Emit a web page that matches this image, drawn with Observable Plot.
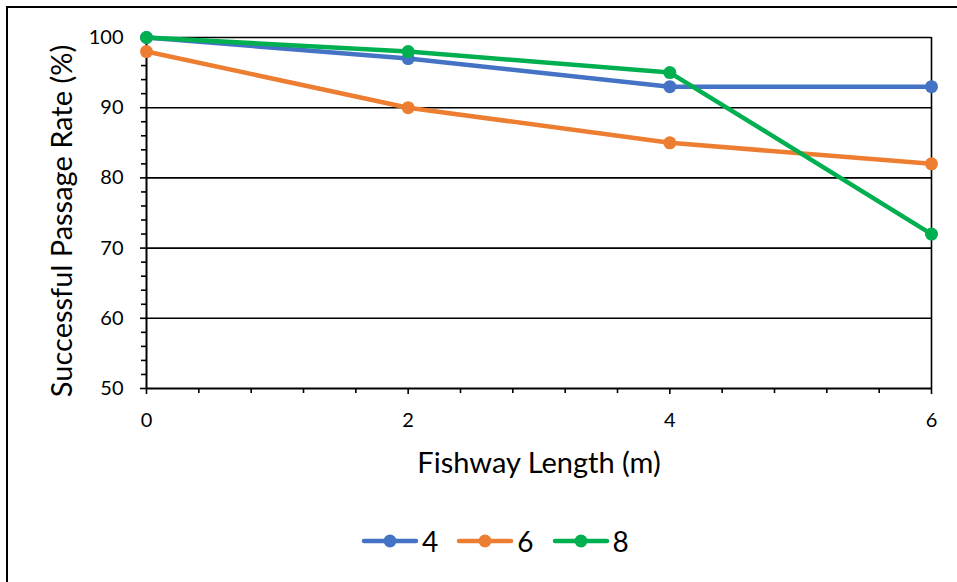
<!DOCTYPE html>
<html>
<head>
<meta charset="utf-8">
<script src="https://cdn.jsdelivr.net/npm/d3@7"></script>
<script src="https://cdn.jsdelivr.net/npm/@observablehq/plot@0.6"></script>
<style>
  html, body { margin: 0; padding: 0; background: #fff; }
  #wrap { position: relative; width: 957px; height: 582px; overflow: hidden; font-family: Lato, "Open Sans", sans-serif; }
  #frame { position: absolute; left: 6px; top: 6px; right: -10px; bottom: -10px; border-left: 2px solid #000; border-top: 2px solid #000; pointer-events: none; }
  #chart { position: absolute; left: 0; top: 0; }
  #legend { position: absolute; left: 361px; top: 524px; display: flex; align-items: center; height: 34px; font-size: 28px; color: #000; }
  .item { display: flex; align-items: center; margin-right: 18px; }
  .item span { margin-left: 3px; line-height: 1; }
</style>
</head>
<body>
<div id="wrap">
  <div id="chart"></div>
  <div id="legend"></div>
  <div id="frame"></div>
</div>
<script>
// Data
const lengths = [0, 2, 4, 6];
const seriesNames = ["4", "6", "8"];
const series4 = [100, 97, 93, 93];
const series6 = [98, 90, 85, 82];
const series8 = [100, 98, 95, 72];
const colors = ["#4472C4", "#ED7D31", "#00B050"];
const yMajorTicks = [50, 60, 70, 80, 90, 100];
const yGridTicks = [60, 70, 80, 90, 100];
const yMinorTicks = [52, 54, 56, 58, 62, 64, 66, 68, 72, 74, 76, 78, 82, 84, 86, 88, 92, 94, 96, 98];
const xMajorTicks = [0, 2, 4, 6];
const xMinorTicks = [0.4, 0.8, 1.2, 1.6, 2.4, 2.8, 3.2, 3.6, 4.4, 4.8, 5.2, 5.6];
const xTitle = "Fishway Length (m)";
const yTitle = "Successful Passage Rate (%)";

const allSeries = [series4, series6, series8];
const data = [];
seriesNames.forEach((name, i) => {
  lengths.forEach((x, j) => data.push({series: name, x, y: allSeries[i][j]}));
});

const plot = Plot.plot({
  width: 957,
  height: 500,
  marginLeft: 146,
  marginRight: 26,
  marginTop: 37,
  marginBottom: 112,
  style: {fontFamily: "Lato, 'Open Sans', sans-serif", background: "transparent", overflow: "visible"},
  x: {domain: [0, 6]},
  y: {domain: [50, 100]},
  color: {domain: seriesNames, range: colors},
  marks: [
    Plot.gridY(yGridTicks, {stroke: "#000", strokeOpacity: 1, strokeWidth: 1.6}),
    Plot.ruleX([6], {stroke: "#000", strokeWidth: 1.6}),
    Plot.ruleY([50], {stroke: "#000", strokeWidth: 2}),
    Plot.ruleX([0], {stroke: "#000", strokeWidth: 2}),
    Plot.axisY(yMinorTicks, {tickSize: 5, text: null, stroke: "#000", strokeWidth: 1.6, label: null}),
    Plot.axisY(yMajorTicks, {tickSize: 6, tickPadding: 17, fontSize: 20, fill: "#000", stroke: "#000", strokeWidth: 1.6, label: null, tickFormat: d => String(d)}),
    Plot.axisX(xMinorTicks, {tickSize: 5, text: null, stroke: "#000", strokeWidth: 1.6, label: null}),
    Plot.axisX(xMajorTicks, {tickSize: 6, tickPadding: 18, fontSize: 20, fill: "#000", stroke: "#000", strokeWidth: 1.6, label: null, tickFormat: d => String(d)}),
    Plot.line(data, {x: "x", y: "y", z: "series", stroke: "series", strokeWidth: 4.5, strokeLinejoin: "round", strokeLinecap: "round"}),
    Plot.dot(data, {x: "x", y: "y", fill: "series", r: 6.5, stroke: null}),
    Plot.text([xTitle], {frameAnchor: "bottom", lineAnchor: "middle", dy: 75, fontSize: 29, fill: "#000"}),
    Plot.text([yTitle], {frameAnchor: "left", textAnchor: "middle", lineAnchor: "middle", dx: -84, dy: 8, rotate: -90, fontSize: 29, fill: "#000"})
  ]
});
document.getElementById("chart").appendChild(plot);

// Legend
const legend = document.getElementById("legend");
seriesNames.forEach((name, i) => {
  const item = document.createElement("div");
  item.className = "item";
  item.innerHTML = `<svg width="58" height="16"><line x1="3" y1="8" x2="55" y2="8" stroke="${colors[i]}" stroke-width="4.5" stroke-linecap="round"/><circle cx="29" cy="8" r="6.5" fill="${colors[i]}"/></svg><span>${name}</span>`;
  legend.appendChild(item);
});
</script>
</body>
</html>
